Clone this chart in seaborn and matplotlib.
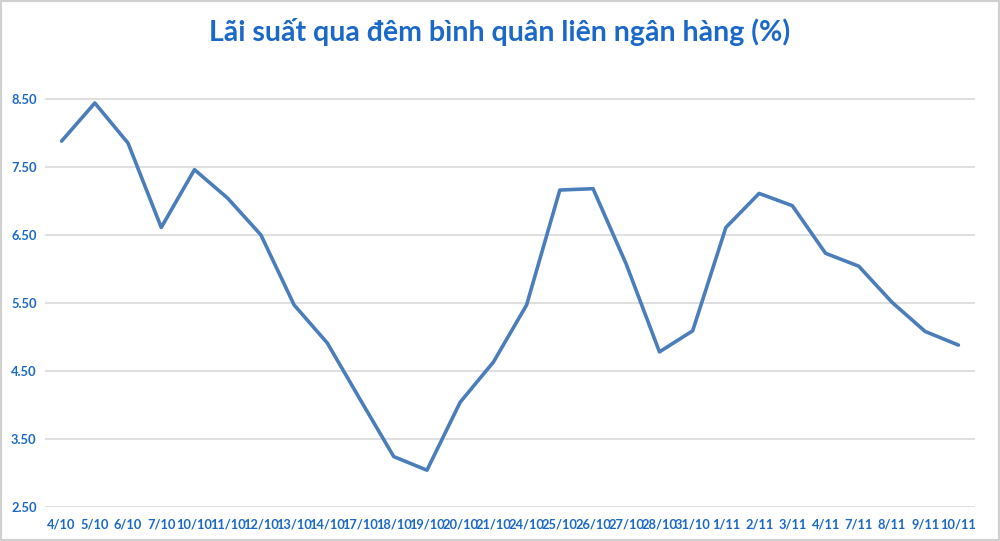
import matplotlib
matplotlib.use("Agg")
import matplotlib.pyplot as plt
import seaborn as sns
import pandas as pd

# Dữ liệu
ngay = ['4/10', '5/10', '6/10', '7/10', '10/10', '11/10', '12/10', '13/10', '14/10',
        '17/10', '18/10', '19/10', '20/10', '21/10', '24/10', '25/10', '26/10', '27/10',
        '28/10', '31/10', '1/11', '2/11', '3/11', '4/11', '7/11', '8/11', '9/11', '10/11']
lai_suat = [7.88, 8.44, 7.85, 6.61, 7.46, 7.04, 6.50, 5.47, 4.91,
            4.07, 3.24, 3.04, 4.04, 4.63, 5.47, 7.16, 7.18, 6.07,
            4.78, 5.09, 6.61, 7.11, 6.93, 6.23, 6.04, 5.51, 5.08, 4.88]
y_ticks = [2.5, 3.5, 4.5, 5.5, 6.5, 7.5, 8.5]
tieu_de = "Lãi suất qua đêm bình quân liên ngân hàng (%)"

sns.set_style("white")
plt.rcParams['font.family'] = ['Lato', 'DejaVu Sans']

xanh_chu = "#1A68C8"
xanh_line = "#4A7EBB"

df = pd.DataFrame({"ngay": ngay, "lai_suat": lai_suat})

fig = plt.figure(figsize=(10, 5.41), dpi=100)
ax = fig.add_axes([0.045, 0.063, 0.93, 0.817])

sns.lineplot(x="ngay", y="lai_suat", data=df, sort=False, color=xanh_line,
             linewidth=2.6, ax=ax)

ax.set_xlim(-0.5, len(ngay) - 0.5)
ax.set_ylim(2.5, 9.0)
ax.set_yticks(y_ticks)
ax.set_yticklabels([f"{v:.2f}" for v in y_ticks])
ax.yaxis.grid(True, color="#D9D9D9", linewidth=1.2)
ax.xaxis.grid(False)
for s in ax.spines.values():
    s.set_visible(False)
ax.tick_params(axis="both", length=0, labelsize=9.3, labelcolor=xanh_chu)
ax.tick_params(axis="x", pad=8)
ax.tick_params(axis="y", pad=6)
for lab in ax.get_xticklabels() + ax.get_yticklabels():
    lab.set_fontweight("bold")
ax.set_xlabel("")
ax.set_ylabel("")

fig.text(0.5, 0.941, tieu_de, ha="center", va="center", fontsize=20.5,
         fontweight="bold", color=xanh_chu)

# Khung viền xám quanh ảnh
fig.patches.append(plt.Rectangle((0.001, 0.001), 0.998, 0.997, transform=fig.transFigure,
                                 fill=False, edgecolor="#D0D0D0", linewidth=1.5))

fig.savefig("out.png", dpi=100)
